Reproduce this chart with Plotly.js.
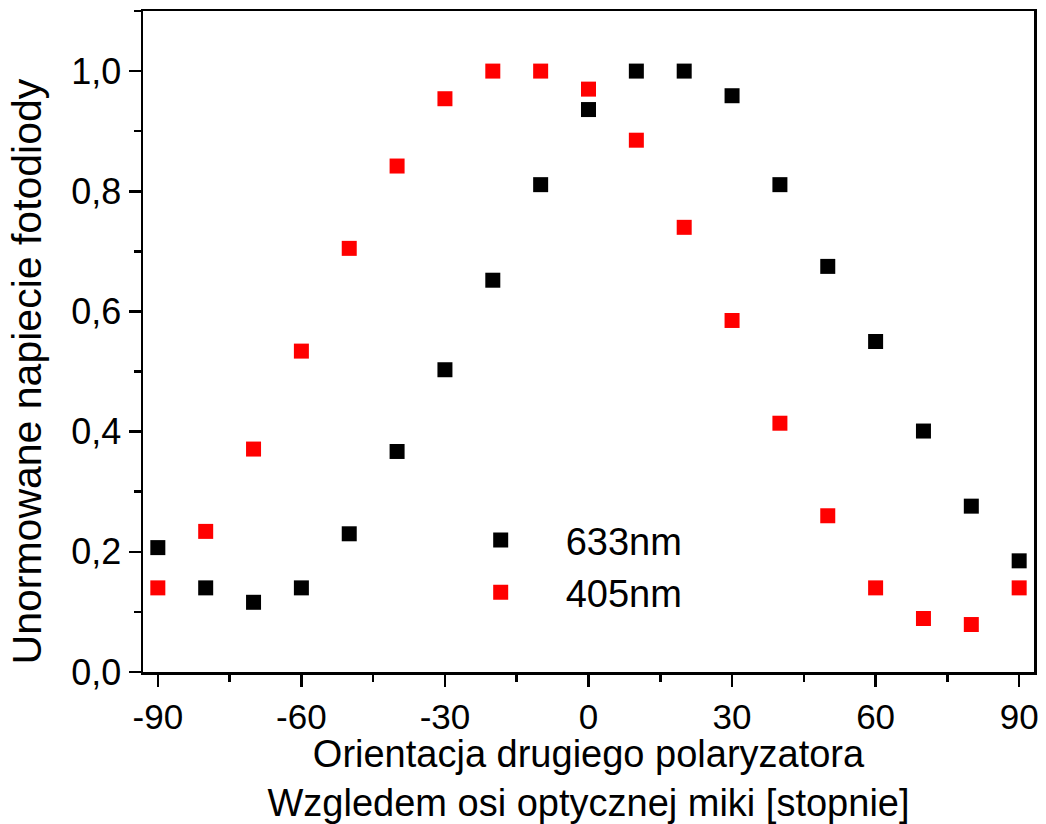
<!DOCTYPE html>
<html>
<head>
<meta charset="utf-8">
<script src="https://cdn.plot.ly/plotly-3.0.1.min.js"></script>
<style>html,body{margin:0;padding:0;background:#fff;}#chart{width:1046px;height:824px;}</style>
</head>
<body>
<div id="chart"></div>
<script>
// Polarizer orientation (degrees)
var angles = [-90, -80, -70, -60, -50, -40, -30, -20, -10, 0, 10, 20, 30, 40, 50, 60, 70, 80, 90];
// Normalized photodiode voltage, 633 nm
var v633 = [0.207, 0.140, 0.116, 0.140, 0.230, 0.367, 0.503, 0.652, 0.811, 0.936, 1.000, 1.000, 0.959, 0.811, 0.675, 0.550, 0.401, 0.276, 0.185];
// Normalized photodiode voltage, 405 nm
var v405 = [0.140, 0.234, 0.371, 0.534, 0.705, 0.842, 0.954, 1.000, 1.000, 0.970, 0.885, 0.740, 0.585, 0.414, 0.260, 0.140, 0.089, 0.079, 0.140];
var seriesNames = ["633nm", "405nm"];
// x tick values and labels (hyphen-minus as in the original)
var xTickVals = [-90, -60, -30, 0, 30, 60, 90];
var xTickText = ["-90", "-60", "-30", "0", "30", "60", "90"];
var xTitle = "Orientacja drugiego polaryzatora<br>Wzgledem osi optycznej miki [stopnie]";
var yTitle = "Unormowane napiecie fotodiody";

var FONT = "Liberation Sans, Arial, sans-serif";

var traces = [
  {x: angles, y: v633, name: seriesNames[0], type: "scatter", mode: "markers",
   marker: {symbol: "square", size: 15, color: "#000000", line: {width: 0}}},
  {x: angles, y: v405, name: seriesNames[1], type: "scatter", mode: "markers",
   marker: {symbol: "square", size: 15, color: "#ff0000", line: {width: 0}}}
];

var axisCommon = {
  showgrid: false, zeroline: false, showline: true, linecolor: "#000", linewidth: 2.5,
  mirror: true, ticks: "outside", ticklen: 12, tickwidth: 2.5, tickcolor: "#000",
  tickfont: {family: FONT, size: 36, color: "#000"}
};

var layout = {
  width: 1046, height: 824,
  margin: {l: 143, r: 12, t: 11, b: 152},
  paper_bgcolor: "#fff", plot_bgcolor: "#fff",
  separators: ", ",
  font: {family: FONT, color: "#000"},
  showlegend: true,
  legend: {x: 0.3285, y: 0.160, xanchor: "left", yanchor: "middle", bgcolor: "rgba(0,0,0,0)",
           font: {family: FONT, size: 38, color: "#000"}, itemwidth: 120, tracegroupgap: 0},
  xaxis: Object.assign({}, axisCommon, {
    range: [-93.1, 93.1], tickmode: "array", tickvals: xTickVals, ticktext: xTickText,
    tickfont: {family: FONT, size: 35, color: "#000"},
    minor: {dtick: 15, tick0: -90, ticks: "outside", ticklen: 7, tickwidth: 2.5, tickcolor: "#000"},
    title: {text: xTitle, font: {family: FONT, size: 38, color: "#000"}, standoff: 12}
  }),
  yaxis: Object.assign({}, axisCommon, {
    range: [0, 1.1], tickmode: "linear", tick0: 0, dtick: 0.2, tickformat: ".1f",
    minor: {dtick: 0.1, ticks: "outside", ticklen: 7, tickwidth: 2.5, tickcolor: "#000"}
  }),
  annotations: [{
    text: yTitle, textangle: -90, xref: "paper", yref: "paper",
    x: -0.130, y: 0.455, xanchor: "center", yanchor: "middle", showarrow: false,
    font: {family: FONT, size: 41, color: "#000"}
  }]
};

Plotly.newPlot("chart", traces, layout, {displayModeBar: false, staticPlot: true});
</script>
</body>
</html>
